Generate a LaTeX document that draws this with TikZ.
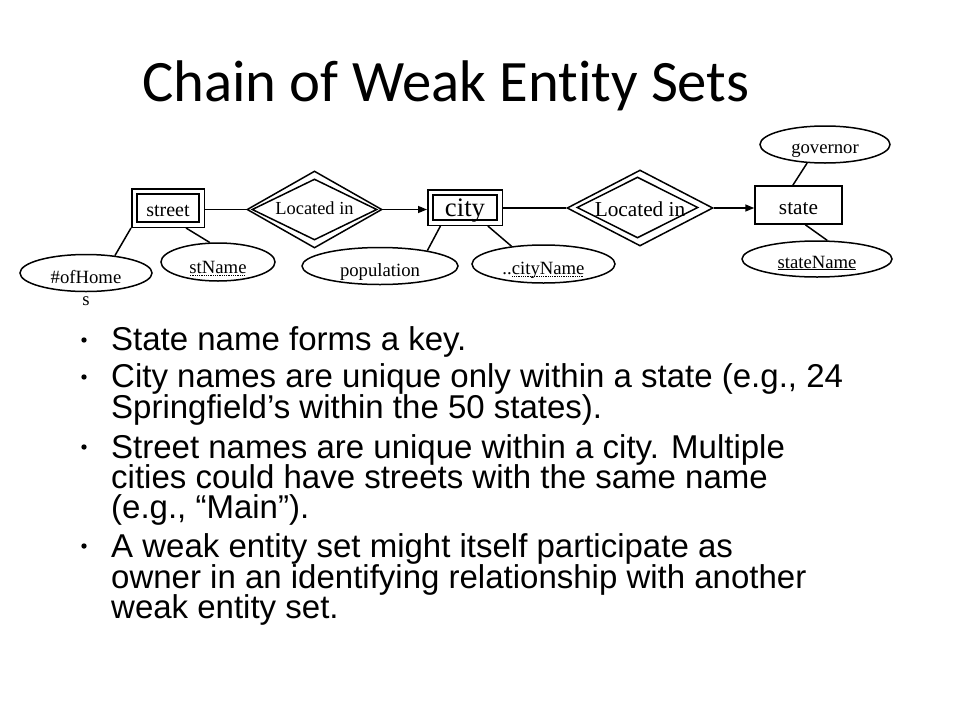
\documentclass[tikz,border=0pt]{standalone}
\usepackage{fontspec}
\setmainfont{Liberation Serif}
\newfontfamily\titlefont[Ligatures={NoCommon,NoContextual}]{Carlito}
\newfontfamily\bodyfont{Liberation Sans}
\usetikzlibrary{shapes.geometric,arrows.meta}
\newcommand{\myDotUL}[1]{\setbox0\hbox{#1}\leavevmode\rlap{\raisebox{-2.6pt}{\hbox to \wd0{\leaders\hbox to 1.8pt{\hss\rule{0.9pt}{0.9pt}\hss}\hfill}}}#1}
\begin{document}
\begin{tikzpicture}[x=1pt,y=-1pt,
  weakent/.style={rectangle, draw, double, line width=1.5pt, double distance=3.8pt, inner sep=0pt, outer sep=3.4pt},
  strongent/.style={rectangle, draw, line width=1.5pt, inner sep=0pt, outer sep=0.75pt},
  attr/.style={ellipse, draw, line width=1.5pt, inner sep=0pt, outer sep=0.75pt, font=\fontsize{18.7}{20}\selectfont},
  reldia/.style={diamond, draw, line width=1.5pt, inner sep=0pt, outer sep=0.75pt},
  conn/.style={line width=1.5pt},
  arr/.style={line width=1.5pt, -{Triangle[length=9pt,width=7pt]}},
  bodyline/.style={anchor=base west, inner sep=0pt, font=\bodyfont\fontsize{33}{36}\selectfont},
  bul/.style={fill=black}
]
\useasboundingbox (0,0) rectangle (960,720);

% title
\node[anchor=base west, inner sep=0pt, font=\titlefont\fontsize{58.7}{64}\selectfont] (title) at (142,101) {Chain of Weak Entity Sets};

% entities
\node[weakent, minimum width=67.2, minimum height=33.2, text height=16pt, text depth=0pt, font=\fontsize{20}{22}\selectfont] (street) at (168,208) {street};
\node[weakent, minimum width=69.2, minimum height=30.2, text height=18pt, text depth=0pt, font=\fontsize{26.7}{28}\selectfont] (city) at (465,207.5) {city};
\node[strongent, minimum width=87, minimum height=38, text height=19pt, text depth=0pt, font=\fontsize{21.3}{23}\selectfont] (state) at (798.5,205) {state};

% relationships
\node[reldia, minimum width=135, minimum height=77, shape aspect=1.75, text height=10pt, text depth=0pt, font=\fontsize{18.4}{20}\selectfont] (rel1) at (314.5,209.5) {Located in};
\node[reldia, minimum width=125, minimum height=61, shape aspect=2] (rel1in) at (314.5,209.5) {};
\node[reldia, minimum width=146, minimum height=76, shape aspect=1.92, text height=16pt, text depth=0pt, font=\fontsize{21.3}{23}\selectfont] (rel2) at (640,208) {Located in};
\node[reldia, minimum width=121, minimum height=61, shape aspect=2] (rel2in) at (637.5,207.5) {};

% attributes
\node[attr, minimum width=132, minimum height=37, text height=21pt, text depth=0pt, label={[label distance=4pt, inner sep=0pt, font=\fontsize{18.7}{20}\selectfont]below:s}] (homes) at (86,273) {\#ofHome};
\node[attr, minimum width=114, minimum height=38, text height=22pt, text depth=0pt] (stname) at (218,262) {\myDotUL{stName}};
\node[attr, minimum width=156, minimum height=37, text height=21pt, text depth=0pt] (pop) at (380,266) {population};
\node[attr, minimum width=143, minimum height=38, text height=20pt, text depth=0pt] (cityname) at (543.5,264) {..\myDotUL{cityName}};
\node[attr, minimum width=130, minimum height=37, text height=17pt, text depth=0pt] (gov) at (825,144.5) {governor};
\node[attr, minimum width=150, minimum height=36, text height=18pt, text depth=0pt] (statename) at (817,259) {\underline{stateName}};

% connectors
\draw[conn] (street.east |- rel1.west) -- (rel1.west);
\draw[arr] (rel1.east) -- (rel1.east -| city.west);
\draw[conn] (city.east |- rel2.west) -- (rel2.west);
\draw[arr] (rel2.east) -- (rel2.east -| state.west);
\draw[conn] (street.south west) -- (homes.31);
\draw[conn] (street.-48) -- (stname.113);
\draw[conn] (city.-143) -- (pop.18);
\draw[conn] (city.-39) -- (cityname.151);
\draw[conn] (state.106) -- (gov.-134);
\draw[conn] (state.-71) -- (statename.61);

% bullets and text
\fill[bul] (84,340) circle (2.7);
\fill[bul] (84,377) circle (2.7);
\fill[bul] (84,447) circle (2.7);
\fill[bul] (84,546) circle (2.7);
\node[bodyline] (t1) at (111,350) {State name forms a key.};
\node[bodyline] (t2) at (111,387) {City names are unique only within a state (e.g., 24};
\node[bodyline] (t3) at (111,418) {Springfield’s within the 50 states).};
\node[bodyline] (t4) at (111,458) {Street names are unique within a city. Multiple};
\node[bodyline] (t5) at (111,488) {cities could have streets with the same name};
\node[bodyline] (t6) at (111,518) {(e.g., “Main”).};
\node[bodyline] (t7) at (111,557) {A weak entity set might itself participate as};
\node[bodyline] (t8) at (111,588) {owner in an identifying relationship with another};
\node[bodyline] (t9) at (111,618) {weak entity set.};
\end{tikzpicture}
\end{document}
